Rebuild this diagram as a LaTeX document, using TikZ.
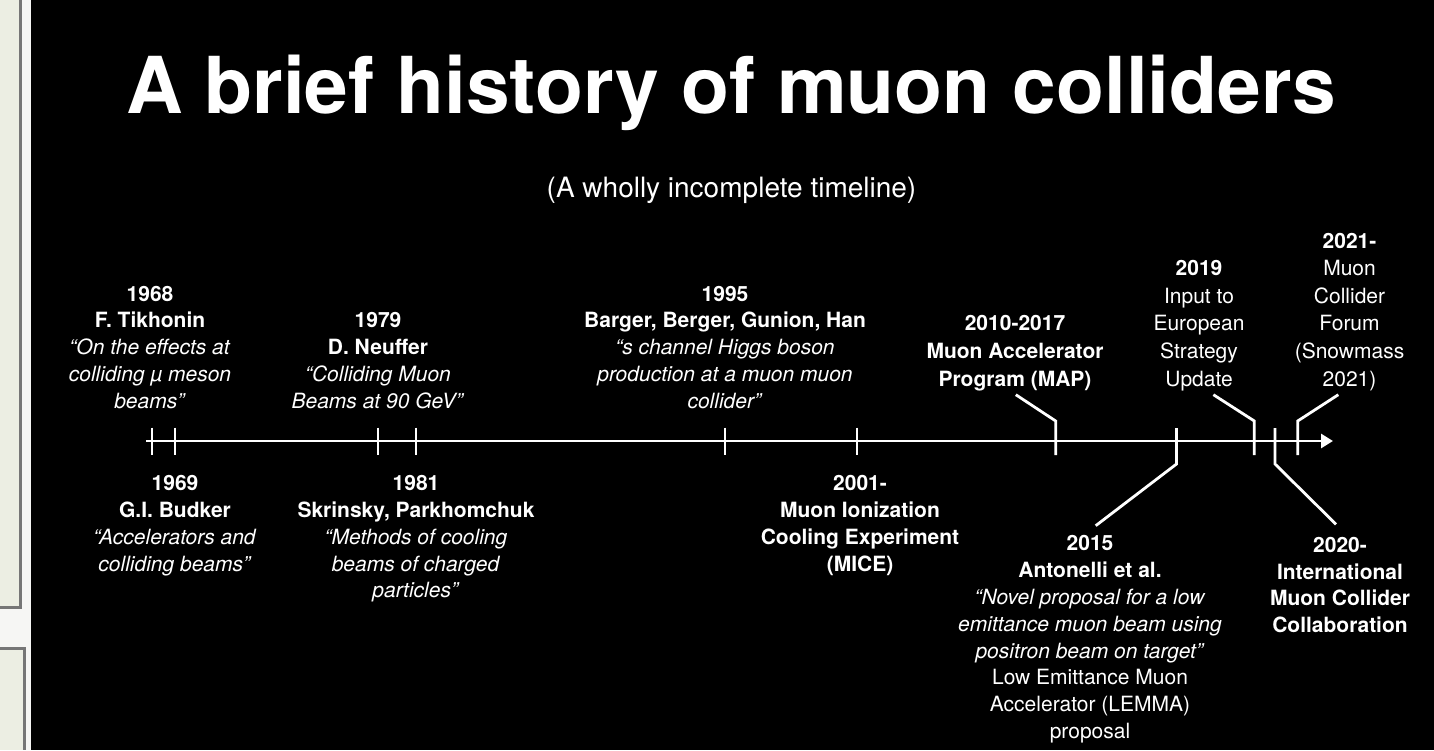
\documentclass[tikz,border=0pt]{standalone}
\usepackage{fontspec}
\setmainfont{TeX Gyre Heros}
\usepackage{tikz}
\usetikzlibrary{arrows.meta, calc}

\definecolor{panel}{HTML}{ECEEE3}
\definecolor{gap}{HTML}{F6F6F4}
\definecolor{frame}{HTML}{767676}
\tikzstyle{event} = [align=center,
text=white,
inner sep=0pt,
anchor=base, % base = last line
font=\fontsize{21}{26.8}\selectfont]
\tikzstyle{wide} = [font=\fontsize{21}{27.6}\selectfont]
\tikzstyle{tickline} = [white, line width=2.8pt]
\tikzstyle{timeline} = [white, line width=2.8pt, -{Triangle[length=12pt,width=14pt]}]

\begin{document}
\begin{tikzpicture}[x=1pt, y=-1pt]
                \useasboundingbox (0,0) rectangle (1434,750);
                % window edge on the left
                \fill[gap] (0,0) rectangle (31,750);
                \fill[panel] (0,0) rectangle (20,606);
                \fill[panel] (0,649) rectangle (24,750);
                \draw[frame, line width=3pt] (20,0) -- (20,607) -- (0,607);
                \draw[frame, line width=3pt] (0,648) -- (24,648) -- (24,750);
                \fill[black] (31,0) rectangle (1434,750);

                \node (title) at (731,113) [anchor=base, text=white, font=\fontsize{78.5}{80}\selectfont\bfseries] {A brief history of muon colliders};
                \node (sub) at (731.5,197) [anchor=base, text=white, font=\fontsize{28}{30}\selectfont] {(A wholly incomplete timeline)};

                \coordinate (start) at (146,441);
                \coordinate (stop) at (1333,441);
                \coordinate (y1968) at (152,441);
                \coordinate (y1969) at (175,441);
                \coordinate (y1979) at (378,441);
                \coordinate (y1981) at (416,441);
                \coordinate (y1995) at (725,441);
                \coordinate (y2001) at (857,441);
                \coordinate (y2010) at (1055.7,441);
                \coordinate (y2015) at (1176.5,441);
                \coordinate (y2019) at (1254.3,441);
                \coordinate (y2020) at (1275,441);
                \coordinate (y2021) at (1297.7,441);
                \coordinate (e2010) at (1015.8,394.7);
                \coordinate (e2015) at (1095.7,525.7);
                \coordinate (e2019) at (1213.4,394.7);
                \coordinate (e2020) at (1336,524.3);
                \coordinate (e2021) at (1338.3,394.7);

                \draw[timeline] (start) -- (stop);
                \foreach \t in {1968,1969,1979,1981,1995,2001}
                    \draw[tickline] ($(y\t)+(0,-13.5)$) -- ($(y\t)+(0,13.5)$);
                \foreach \t in {2010,2019,2021}
                    \draw[tickline] ($(y\t)+(0,14)$) -- ($(y\t)+(0,-20)$) -- (e\t);
                \foreach \t in {2015,2020}
                    \draw[tickline] ($(y\t)+(0,-13)$) -- ($(y\t)+(0,23)$) -- (e\t);

                % above the line
                \node (l1968) [event] at (150,408.3) {\textbf{1968}\\\textbf{F. Tikhonin}\\\textit{“On the effects at}\\\textit{colliding µ meson}\\\textit{beams”}};
                \node (l1979) [event] at (378,408.3) {\textbf{1979}\\\textbf{D. Neuffer}\\\textit{“Colliding Muon}\\\textit{Beams at 90 GeV”}};
                \node (l1995) [event] at (725,408.3) {\textbf{1995}\\\textbf{Barger, Berger, Gunion, Han}\\\textit{“s channel Higgs boson}\\\textit{production at a muon muon}\\\textit{collider”}};
                \node (l2010) [event, wide] at (1015,386) {\textbf{2010-2017}\\\textbf{Muon Accelerator}\\\textbf{Program (MAP)}};
                \node (l2019) [event, wide] at (1199,386) {\textbf{2019}\\Input to\\European\\Strategy\\Update};
                \node (l2021) [event, wide] at (1349.5,386) {\textbf{2021-}\\Muon\\Collider\\Forum\\(Snowmass\\2021)};

                % below the line
                \node (l1969) [event] at (175,571.1) {\textbf{1969}\\\textbf{G.I. Budker}\\\textit{“Accelerators and}\\\textit{colliding beams”}};
                \node (l1981) [event] at (416,597.9) {\textbf{1981}\\\textbf{Skrinsky, Parkhomchuk}\\\textit{“Methods of cooling}\\\textit{beams of charged}\\\textit{particles”}};
                \node (l2001) [event] at (860,571.1) {\textbf{2001-}\\\textbf{Muon Ionization}\\\textbf{Cooling Experiment}\\\textbf{(MICE)}};
                \node (l2015) [event] at (1090,738.5) {\textbf{2015}\\\textbf{Antonelli et al.}\\\textit{“Novel proposal for a low}\\\textit{emittance muon beam using}\\\textit{positron beam on target”}\\Low Emittance Muon\\Accelerator (LEMMA)\\proposal};
                \node (l2020) [event] at (1340,632.7) {\textbf{2020-}\\\textbf{International}\\\textbf{Muon Collider}\\\textbf{Collaboration}};
            \end{tikzpicture}
\end{document}
